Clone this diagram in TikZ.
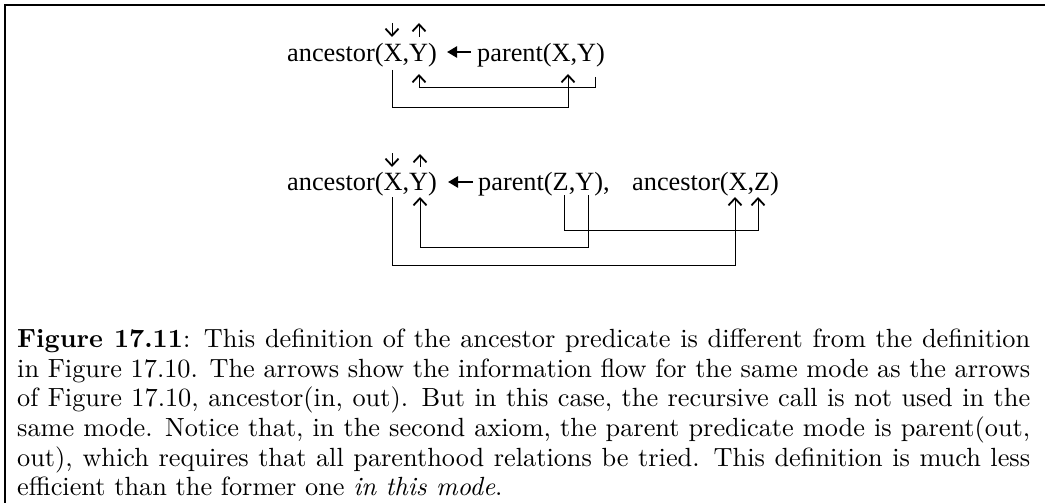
\documentclass[tikz,border=0pt]{standalone}
\usepackage{fontspec}
\setmainfont{lmroman10}[Extension=.otf, UprightFont=*-regular, BoldFont=*-bold, ItalicFont=*-italic, BoldItalicFont=*-bolditalic]
\newfontfamily\timesf{Liberation Serif}
\usetikzlibrary{arrows.meta}
\newcommand{\capline}[1]{\makebox[1013pt][s]{#1}}
\begin{document}
\begin{tikzpicture}[x=1pt,y=-1pt,
  term/.style={font=\timesf\fontsize{26.3}{30}\selectfont, inner sep=0pt, anchor=base west},
  flow/.style={line width=0.9pt, -{Straight Barb[length=7pt,width=13pt,line width=1.8pt]}},
  implies/.style={line width=2.6pt, -{Triangle[length=10pt,width=11pt]}},
  frame/.style={line width=2.4pt}
]
\useasboundingbox (0,0) rectangle (1045,503);
% frame
\coordinate (fa) at (5.2,503);
\coordinate (fb) at (5.2,5.2);
\coordinate (fc) at (1045,5.2);
\draw[frame] (fa) -- (fb) -- (fc);

% ---- first clause ----
\node[term] (h1) at (287,62) {ancestor(X,Y)};
\node[term] (b1) at (477,62) {parent(X,Y)};
\coordinate (h1imp) at (447,52);
\coordinate (b1imp) at (471,52);
\draw[implies] (b1imp) -- (h1imp);
% mode arrows above head
\coordinate (h1Xtop) at (392,23);
\coordinate (h1Xin) at (392,37);
\coordinate (h1Yout) at (419,23);
\coordinate (h1Ybot) at (419,37);
\draw[flow] (h1Xtop) -- (h1Xin);
\draw[flow] (h1Ybot) -- (h1Yout);
% flows below
\coordinate (b1Ysrc) at (595,77);
\coordinate (h1Ydst) at (419,74);
\draw[flow] (b1Ysrc) |- (419,87) -- (h1Ydst);
\coordinate (h1Xsrc) at (392,70);
\coordinate (b1Xdst) at (568,74);
\draw[flow] (h1Xsrc) |- (568,107) -- (b1Xdst);

% ---- second clause ----
\node[term] (h2) at (287,190) {ancestor(X,Y)};
\node[term] (b2) at (478,190) {parent(Z,Y),};
\node[term] (c2) at (632,190) {ancestor(X,Z)};
\coordinate (h2imp) at (448,182);
\coordinate (b2imp) at (473,182);
\draw[implies] (b2imp) -- (h2imp);
\coordinate (h2Xtop) at (392,153);
\coordinate (h2Xin) at (392,167);
\coordinate (h2Yout) at (420,154);
\coordinate (h2Ybot) at (420,167);
\draw[flow] (h2Xtop) -- (h2Xin);
\draw[flow] (h2Ybot) -- (h2Yout);
% Y of parent back to Y of head
\coordinate (b2Ysrc) at (588,195);
\coordinate (h2Ydst) at (420,197);
\draw[flow] (b2Ysrc) |- (420,247) -- (h2Ydst);
% Z of parent to Z of recursive call
\coordinate (b2Zsrc) at (564,195);
\coordinate (c2Zdst) at (758,197);
\draw[flow] (b2Zsrc) |- (758,230) -- (c2Zdst);
% X of head to X of recursive call
\coordinate (h2Xsrc) at (392,197);
\coordinate (c2Xdst) at (735,197);
\draw[flow] (h2Xsrc) |- (735,265) -- (c2Xdst);

% ---- caption ----
\node[anchor=north west, inner sep=0pt, align=left,
      font=\fontsize{26.3}{29.6}\selectfont] (cap) at (17,329)
{\capline{\textbf{Figure 17.11}: This definition of the ancestor predicate is different from the definition}\\
\capline{in Figure 17.10. The arrows show the information flow for the same mode as the arrows}\\
\capline{of Figure 17.10, ancestor(in, out). But in this case, the recursive call is not used in the}\\
\capline{same mode. Notice that, in the second axiom, the parent predicate mode is parent(out,}\\
\capline{out), which requires that all parenthood relations be tried. This definition is much less}\\
efficient than the former one \textit{in this mode}.};
\end{tikzpicture}
\end{document}
